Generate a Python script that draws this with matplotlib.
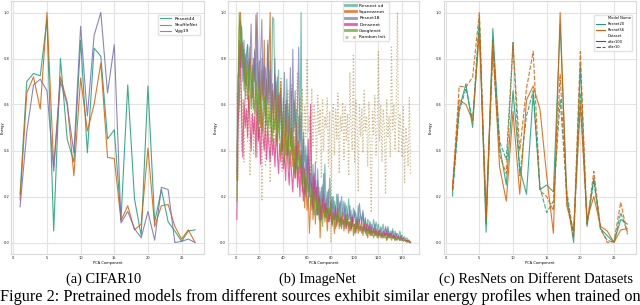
import numpy as np
import matplotlib
matplotlib.use('Agg')
import matplotlib.pyplot as plt
from matplotlib.lines import Line2D

# --- (a) CIFAR10 ---
comp_a = np.arange(1, 28)
resnet44 = [0.21, 0.70, 0.735, 0.725, 0.97, 0.05, 0.80, 0.45, 0.35, 0.88, 0.39, 0.845, 0.81, 0.45,
            0.49, 0.10, 0.685, 0.19, 0.03, 0.68, 0.09, 0.23, 0.09, 0.05, 0.005, 0.05, 0.055]
shufflenet = [0.185, 0.65, 0.72, 0.58, 1.00, 0.33, 0.72, 0.61, 0.29, 0.715, 0.485, 0.60, 0.78, 0.37,
              0.365, 0.095, 0.16, 0.055, 0.08, 0.41, 0.07, 0.16, 0.165, 0.07, 0.015, 0.055, 0.0]
vgg19 = [0.155, 0.48, 0.685, 0.71, 0.66, 0.31, 0.70, 0.60, 0.39, 0.94, 0.55, 0.90, 1.00, 0.65,
         0.86, 0.085, 0.135, 0.06, 0.02, 0.135, 0.01, 0.24, 0.23, 0.0, 0.005, 0.015, 0.0]

# --- (b) ImageNet ---
comp_b = np.arange(1, 148)
resnext = [0.37, 0.73, 0.72, 0.96, 0.92, 0.76, 0.88, 0.69, 0.82, 0.86, 0.74, 0.80, 0.63, 0.77, 0.70,
           0.84, 0.55, 0.78, 0.45, 0.74, 0.62, 0.80, 0.58, 0.69, 0.76, 0.51, 0.86, 0.65, 0.79, 0.56,
           0.98, 0.97, 0.62, 0.70, 0.52, 0.75, 0.45, 0.67, 0.40, 0.63, 0.55, 0.38, 0.71, 0.48, 0.60,
           0.42, 0.66, 0.36, 0.62, 0.50, 0.58, 0.30, 0.55, 0.44, 1.00, 0.25, 0.48, 0.35, 0.42, 0.28,
           0.38, 0.22, 0.30, 0.20, 0.34, 0.18, 0.27, 0.15, 0.32, 0.12, 0.22, 0.10, 0.25, 0.18, 0.34,
           0.14, 0.22, 0.12, 0.28, 0.16, 0.20, 0.10, 0.18, 0.13, 0.21, 0.11, 0.17, 0.09, 0.20, 0.14,
           0.18, 0.08, 0.16, 0.12, 0.19, 0.10, 0.14, 0.07, 0.15, 0.11, 0.13, 0.06, 0.16, 0.09, 0.12,
           0.08, 0.14, 0.07, 0.11, 0.05, 0.10, 0.09, 0.04, 0.08, 0.07, 0.10, 0.05, 0.09, 0.06, 0.08,
           0.04, 0.07, 0.05, 0.08, 0.03, 0.06, 0.05, 0.07, 0.03, 0.05, 0.04, 0.06, 0.02, 0.05, 0.03,
           0.04, 0.02, 0.05, 0.03, 0.03, 0.02, 0.025, 0.015, 0.02, 0.01, 0.01, 0.0]
squeezenet = [0.27, 0.64, 0.93, 1.00, 0.80, 0.87, 0.72, 0.82, 0.68, 0.79, 0.58, 0.85, 0.72, 0.63, 0.80,
              0.70, 0.99, 0.86, 0.66, 0.79, 0.50, 0.75, 0.62, 0.88, 0.55, 0.71, 0.60, 0.81, 1.00, 0.52,
              0.66, 0.48, 0.73, 0.58, 0.44, 0.64, 0.52, 0.70, 0.40, 0.57, 0.35, 0.60, 0.47, 0.38, 0.55,
              0.42, 0.50, 0.33, 0.46, 0.28, 0.52, 0.36, 0.44, 0.30, 0.40, 0.22, 0.35, 0.15, 0.28, 0.14,
              0.20, 0.04, 0.17, 0.26, 0.10, 0.22, 0.08, 0.19, 0.12, 0.24, 0.02, 0.16, 0.11, 0.21, 0.09,
              0.17, 0.05, 0.14, 0.10, 0.18, 0.07, 0.13, 0.04, 0.12, 0.09, 0.15, 0.06, 0.11, 0.08, 0.13,
              0.05, 0.10, 0.07, 0.12, 0.04, 0.09, 0.06, 0.11, 0.03, 0.08, 0.05, 0.10, 0.04, 0.07, 0.06,
              0.09, 0.03, 0.07, 0.05, 0.08, 0.02, 0.06, 0.04, 0.07, 0.03, 0.05, 0.04, 0.06, 0.02, 0.05,
              0.03, 0.04, 0.02, 0.05, 0.03, 0.04, 0.01, 0.04, 0.03, 0.02, 0.04, 0.02, 0.03, 0.01, 0.03,
              0.02, 0.02, 0.01, 0.03, 0.01, 0.02, 0.01, 0.01, 0.005, 0.01, 0.005, 0.0]
resnet18 = [0.30, 0.58, 0.88, 0.76, 0.94, 0.70, 0.84, 0.62, 0.78, 0.86, 0.66, 0.80, 0.95, 0.72, 0.58,
            0.83, 0.68, 1.00, 0.74, 0.60, 0.82, 0.97, 0.64, 0.77, 0.52, 0.70, 0.88, 0.58, 0.75, 0.48,
            0.69, 0.56, 0.80, 0.44, 0.72, 0.50, 0.65, 0.60, 0.42, 0.58, 0.74, 0.46, 0.62, 0.38, 0.55,
            0.76, 0.40, 0.84, 0.48, 0.66, 0.32, 0.60, 0.85, 0.36, 0.56, 0.26, 0.45, 0.21, 0.38, 0.30,
            0.18, 0.33, 0.24, 0.14, 0.29, 0.20, 0.35, 0.12, 0.27, 0.17, 0.09, 0.24, 0.15, 0.30, 0.11,
            0.19, 0.13, 0.23, 0.09, 0.17, 0.12, 0.20, 0.10, 0.16, 0.08, 0.21, 0.14, 0.18, 0.09, 0.15,
            0.11, 0.17, 0.08, 0.13, 0.10, 0.16, 0.06, 0.12, 0.09, 0.14, 0.07, 0.11, 0.08, 0.17, 0.12,
            0.09, 0.13, 0.06, 0.10, 0.05, 0.08, 0.06, 0.09, 0.04, 0.07, 0.05, 0.08, 0.03, 0.06, 0.05,
            0.04, 0.06, 0.03, 0.05, 0.04, 0.07, 0.03, 0.06, 0.02, 0.04, 0.03, 0.05, 0.02, 0.03, 0.04,
            0.02, 0.03, 0.02, 0.03, 0.01, 0.02, 0.015, 0.01, 0.01, 0.005, 0.005, 0.0]
densenet = [0.10, 0.52, 0.60, 0.86, 0.55, 0.37, 0.62, 0.50, 0.58, 0.46, 0.64, 0.52, 0.40, 0.56, 0.47,
            0.55, 0.37, 0.62, 0.44, 0.50, 0.34, 0.58, 0.46, 0.40, 0.53, 0.36, 0.48, 0.42, 0.35, 0.50,
            0.38, 0.45, 0.33, 0.47, 0.40, 0.30, 0.43, 0.35, 0.48, 0.32, 0.38, 0.27, 0.44, 0.33, 0.25,
            0.40, 0.30, 0.22, 0.36, 0.28, 0.42, 0.24, 0.33, 0.20, 0.38, 0.26, 0.18, 0.32, 0.22, 0.28,
            0.45, 0.20, 0.60, 0.25, 0.15, 0.30, 0.18, 0.24, 0.12, 0.20, 0.16, 0.10, 0.19, 0.13, 0.17,
            0.11, 0.15, 0.09, 0.14, 0.12, 0.08, 0.13, 0.10, 0.15, 0.07, 0.12, 0.09, 0.11, 0.06, 0.10,
            0.08, 0.12, 0.06, 0.10, 0.07, 0.09, 0.05, 0.11, 0.07, 0.08, 0.04, 0.09, 0.06, 0.10, 0.05,
            0.07, 0.05, 0.08, 0.04, 0.06, 0.05, 0.07, 0.03, 0.05, 0.04, 0.06, 0.03, 0.05, 0.04, 0.03,
            0.05, 0.03, 0.04, 0.02, 0.04, 0.03, 0.05, 0.02, 0.03, 0.04, 0.02, 0.03, 0.02, 0.03, 0.01,
            0.02, 0.02, 0.01, 0.02, 0.01, 0.01, 0.01, 0.005, 0.01, 0.005, 0.0, 0.0]
googlenet = [0.18, 0.70, 1.00, 0.90, 0.76, 0.84, 0.66, 0.80, 0.72, 0.62, 0.77, 0.68, 0.58, 0.74, 0.64,
             0.56, 0.70, 0.60, 0.66, 0.52, 0.62, 0.57, 0.48, 0.64, 0.54, 0.60, 0.46, 0.58, 0.50, 0.62,
             0.44, 0.55, 0.49, 0.60, 0.42, 0.52, 0.46, 0.38, 0.54, 0.44, 0.35, 0.50, 0.40, 0.46, 0.32,
             0.48, 0.38, 0.44, 0.30, 0.42, 0.35, 0.28, 0.40, 0.32, 0.37, 0.24, 0.33, 0.27, 0.20, 0.30,
             0.22, 0.26, 0.16, 0.24, 0.19, 0.12, 0.22, 0.15, 0.20, 0.10, 0.18, 0.13, 0.07, 0.16, 0.11,
             0.14, 0.09, 0.15, 0.12, 0.17, 0.08, 0.13, 0.10, 0.06, 0.12, 0.09, 0.14, 0.07, 0.11, 0.08,
             0.10, 0.06, 0.12, 0.08, 0.09, 0.05, 0.11, 0.07, 0.08, 0.04, 0.10, 0.06, 0.08, 0.05, 0.07,
             0.04, 0.06, 0.05, 0.07, 0.03, 0.06, 0.04, 0.05, 0.03, 0.05, 0.02, 0.04, 0.03, 0.05, 0.02,
             0.04, 0.02, 0.03, 0.04, 0.02, 0.03, 0.01, 0.03, 0.02, 0.03, 0.01, 0.02, 0.02, 0.01, 0.02,
             0.01, 0.02, 0.01, 0.01, 0.01, 0.005, 0.01, 0.005, 0.0, 0.005, 0.0, 0.0]
random_init = [0.65, 0.27, 0.55, 0.75, 0.40, 0.62, 0.35, 0.58, 0.72, 0.44, 0.60, 0.29, 0.52, 0.68, 0.38,
               0.56, 0.70, 0.37, 0.61, 0.45, 0.66, 0.18, 0.54, 0.63, 0.33, 0.59, 0.47, 0.70, 0.26, 0.57,
               0.64, 0.40, 0.53, 0.68, 0.36, 0.60, 0.49, 0.72, 0.31, 0.55, 0.62, 0.42, 0.58, 0.66, 0.34,
               0.52, 0.69, 0.45, 0.61, 0.38, 0.57, 0.74, 0.41, 0.63, 0.50, 0.67, 0.36, 0.59, 0.46, 0.80,
               0.48, 0.55, 0.30, 0.67, 0.42, 0.60, 0.52, 0.35, 0.64, 0.47, 0.58, 0.28, 0.62, 0.40, 0.55,
               0.50, 0.63, 0.33, 0.57, 0.00, 0.52, 0.60, 0.38, 0.58, 0.45, 0.65, 0.30, 0.55, 0.48, 0.61,
               0.36, 0.59, 0.44, 0.56, 0.29, 0.74, 0.50, 0.40, 0.82, 0.35, 0.62, 0.54, 0.22, 0.60, 0.46,
               0.58, 0.39, 0.66, 0.48, 0.55, 0.33, 0.61, 0.43, 0.13, 0.57, 0.47, 0.64, 0.38, 0.52, 0.83,
               0.44, 0.60, 0.35, 0.58, 0.50, 0.21, 0.62, 0.46, 0.55, 0.37, 0.85, 0.49, 0.60, 0.40, 0.58,
               1.00, 0.39, 0.56, 0.48, 0.37, 0.59, 0.26, 0.50, 0.44, 0.33, 0.63, 0.29]

# --- (c) ResNets on different datasets ---
comp_c = np.arange(1, 28)
r20_c100 = [0.22, 0.58, 0.69, 0.50, 0.95, 0.045, 0.93, 0.42, 0.25, 0.66, 0.32, 0.21, 0.65, 0.23,
            0.25, 0.22, 0.95, 0.20, 0.0, 0.77, 0.07, 0.28, 0.06, 0.03, 0.0, 0.10, 0.08]
r20_c10 = [0.20, 0.57, 0.67, 0.53, 0.98, 0.08, 0.88, 0.44, 0.36, 0.87, 0.29, 0.55, 0.66, 0.24,
           0.13, 0.18, 0.62, 0.22, 0.03, 0.65, 0.08, 0.27, 0.055, 0.01, 0.0, 0.13, 0.045]
r56_c100 = [0.235, 0.62, 0.60, 0.53, 0.91, 0.13, 0.87, 0.33, 0.18, 0.57, 0.21, 0.62, 0.68, 0.58,
            0.29, 0.04, 1.00, 0.16, 0.05, 0.60, 0.10, 0.20, 0.07, 0.05, 0.0, 0.055, 0.06]
r56_c10 = [0.23, 0.68, 0.675, 0.72, 1.00, 0.10, 0.83, 0.38, 0.30, 0.86, 0.40, 0.67, 0.83, 0.225,
           0.20, 0.14, 0.73, 0.17, 0.02, 0.83, 0.08, 0.31, 0.065, 0.0, 0.005, 0.175, 0.035]

GREEN, ORANGE, PURPLE, PINK, LIME, BROWN = '#1b9e77', '#d95f02', '#7570b3', '#e7298a', '#66a61e', '#a6761d'
small = 2.6

fig = plt.figure(figsize=(6.4, 3.05), dpi=100)
W, H = 640, 305


def make_axes(left_px, width_px):
    ax = fig.add_axes([left_px / W, 51 / H, width_px / W, 253 / H])
    ax.set_facecolor('white')
    for s in ax.spines.values():
        s.set_color('#d9d9d9')
        s.set_linewidth(0.8)
    ax.grid(True, color='#e3e3e3', lw=0.8)
    ax.set_axisbelow(True)
    ax.tick_params(length=0, labelsize=small, pad=1.5, colors='#222222')
    ax.set_yticks(np.arange(0, 1.01, 0.2))
    ax.set_ylabel('Energy', fontsize=small, labelpad=2)
    ax.set_xlabel('PCA Component', fontsize=small, labelpad=1)
    return ax


# (a)
ax1 = make_axes(11.3, 192.5)
ax1.plot(comp_a, resnet44, color=GREEN, lw=0.8, alpha=0.85, label='Resnet44')
ax1.plot(comp_a, shufflenet, color=ORANGE, lw=0.8, alpha=0.85, label='ShuffleNet')
ax1.plot(comp_a, vgg19, color=PURPLE, lw=0.8, alpha=0.85, label='Vgg19')
ax1.set_xticks(range(0, 26, 5))
ax1.yaxis.set_label_coords(-0.034, 0.5)
ax1.legend(loc='upper right', bbox_to_anchor=(0.98, 0.945), borderaxespad=0, fontsize=3.2,
           handlelength=2.5, frameon=True, edgecolor='#dddddd', fancybox=True)

# (b)
ax2 = make_axes(228.2, 191)
ax2.plot(comp_b, resnext, color=GREEN, lw=0.8, alpha=0.6, label='Resnext xd')
ax2.plot(comp_b, squeezenet, color=ORANGE, lw=0.8, alpha=0.75, label='Squeezenet')
ax2.plot(comp_b, resnet18, color=PURPLE, lw=0.8, alpha=0.7, label='Resnet18')
ax2.plot(comp_b, densenet, color=PINK, lw=0.8, alpha=0.75, label='Densenet')
ax2.plot(comp_b, googlenet, color=LIME, lw=0.8, alpha=0.75, label='Googlenet')
ax2.plot(comp_b, random_init, color=BROWN, lw=0.9, alpha=0.5, ls=':', label='Random Init.')
ax2.set_xticks(range(0, 141, 20))
leg2 = ax2.legend(loc='upper left', bbox_to_anchor=(0.60, 0.997), borderaxespad=0, fontsize=3.2,
                  handlelength=2.5, frameon=True, edgecolor='#dddddd', fancybox=True)
for h in leg2.get_lines():
    h.set_linewidth(2.0)

# (c)
ax3 = make_axes(443.7, 192.5)
ax3.plot(comp_c, r20_c100, color=GREEN, lw=0.8, alpha=0.85)
ax3.plot(comp_c, r20_c10, color=GREEN, lw=0.8, alpha=0.85, dashes=(4, 1.5))
ax3.plot(comp_c, r56_c100, color=ORANGE, lw=0.8, alpha=0.85)
ax3.plot(comp_c, r56_c10, color=ORANGE, lw=0.8, alpha=0.85, dashes=(4, 1.5))
ax3.set_xticks(range(0, 26, 5))
blank = Line2D([], [], color='none')
handles = [blank, Line2D([], [], color=GREEN, lw=0.8), Line2D([], [], color=ORANGE, lw=0.8), blank,
           Line2D([], [], color='#555555', lw=0.8), Line2D([], [], color='#555555', lw=0.8, dashes=(4, 1.5))]
labels = ['Model Name', 'Resnet20', 'Resnet56', 'Dataset', 'cifar100', 'cifar10']
ax3.legend(handles, labels, loc='upper right', bbox_to_anchor=(0.979, 0.945), borderaxespad=0,
           fontsize=2.6, handlelength=2.5, frameon=True, edgecolor='#dddddd', fancybox=True)

for ax in (ax1, ax2, ax3):
    ax.set_ylim(-0.05, 1.05)

# captions
serif = ['Liberation Serif', 'DejaVu Serif']
fig.text(104 / W, 0.074, '(a) CIFAR10', ha='center', va='baseline', fontsize=10.4, family=serif)
fig.text(317 / W, 0.074, '(b) ImageNet', ha='center', va='baseline', fontsize=10.4, family=serif)
fig.text(536 / W, 0.074, '(c) ResNets on Different Datasets', ha='center', va='baseline',
         fontsize=10.4, family=serif)
fig.text(0.0, 0.012, 'Figure 2: Pretrained models from different sources exhibit similar energy profiles when trained on',
         ha='left', va='baseline', fontsize=11.7, family=serif)

fig.savefig('out.png', dpi=100)
